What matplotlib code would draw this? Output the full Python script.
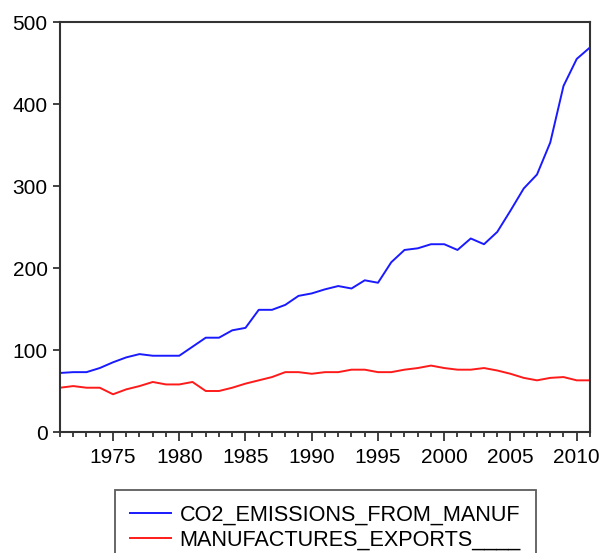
import matplotlib
matplotlib.use("Agg")
import matplotlib.pyplot as plt
from matplotlib.ticker import MultipleLocator, FormatStrFormatter

plt.rcParams['font.family'] = ['Liberation Sans', 'DejaVu Sans']

years = list(range(1971, 2012))
co2_emissions = [72, 73, 73, 78, 85, 91, 95, 93, 93, 93,
                 104, 115, 115, 124, 127, 149, 149, 155, 166, 169,
                 174, 178, 175, 185, 182, 207, 222, 224, 229, 229,
                 222, 236, 229, 244, 270, 297, 314, 353, 422, 455,
                 469]
manuf_exports = [54, 56, 54, 54, 46, 52, 56, 61, 58, 58,
                 61, 50, 50, 54, 59, 63, 67, 73, 73, 71,
                 73, 73, 76, 76, 73, 73, 76, 78, 81, 78,
                 76, 76, 78, 75, 71, 66, 63, 66, 67, 63,
                 63]
series_labels = ["CO2_EMISSIONS_FROM_MANUF", "MANUFACTURES_EXPORTS____"]

W, H = 601, 553
fig = plt.figure(figsize=(W / 100, H / 100), dpi=100)
ax = fig.add_axes([60 / W, 1 - 432 / H, 530 / W, 410 / H])

l1, = ax.plot(years, co2_emissions, color='#1a1aff', lw=1.4)
l2, = ax.plot(years, manuf_exports, color='#ff1a1a', lw=1.4)

ax.set_xlim(1971, 2011)
ax.set_ylim(0, 500)
ax.xaxis.set_major_locator(MultipleLocator(5))
ax.xaxis.set_minor_locator(MultipleLocator(1))
ax.xaxis.set_major_formatter(FormatStrFormatter('%d'))
ax.yaxis.set_major_locator(MultipleLocator(100))

for s in ax.spines.values():
    s.set_color('#333333')
    s.set_linewidth(1.5)

ax.tick_params(axis='y', which='major', direction='out', length=5, width=1.3,
               color='#333333', labelsize=15, pad=4)
ax.tick_params(axis='x', which='major', direction='out', length=6.5, width=1.3,
               color='#333333', labelsize=15, pad=5)
ax.tick_params(axis='x', which='minor', direction='out', length=3.5, width=1.3,
               color='#333333')

leg = fig.legend([l1, l2], series_labels, loc='upper left',
                 bbox_to_anchor=(115 / W, 1 - 490 / H), bbox_transform=fig.transFigure,
                 borderaxespad=0, borderpad=0.68, handlelength=1.9,
                 handletextpad=0.4, labelspacing=0.17, fontsize=15.6,
                 frameon=True, fancybox=False, edgecolor='#333333')
leg.get_frame().set_linewidth(1.3)
for h in leg.get_lines():
    h.set_linewidth(1.4)

fig.savefig('out.png', dpi=100)
